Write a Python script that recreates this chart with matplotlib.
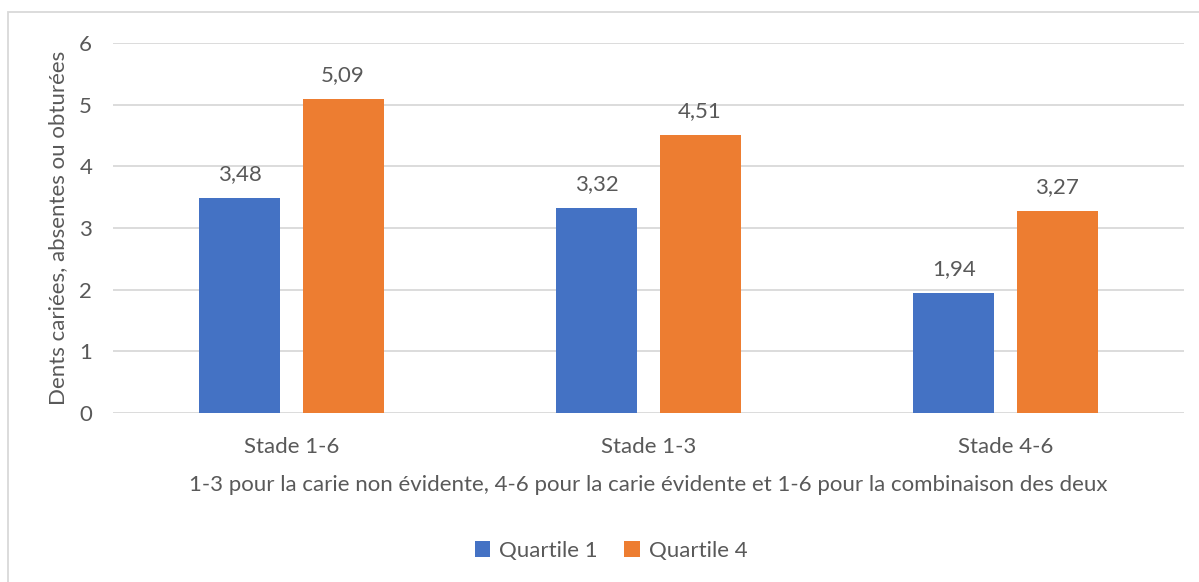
import matplotlib.pyplot as plt
from matplotlib.patches import Rectangle
import numpy as np

categories = ["Stade 1-6", "Stade 1-3", "Stade 4-6"]
quartile1 = [3.48, 3.32, 1.94]
quartile4 = [5.09, 4.51, 3.27]
series_names = ["Quartile 1", "Quartile 4"]

plt.rcParams['font.family'] = ['Lato', 'DejaVu Sans']
txt = "#595959"
grid = "#D9D9D9"
fs = 16

fig = plt.figure(figsize=(11.99, 5.82), dpi=100)
fig.patches.append(Rectangle((8 / 1199, -0.1), 1.2, 1.1 - 12 / 582, transform=fig.transFigure,
                             fill=False, edgecolor=grid, linewidth=1.3))
ax = fig.add_axes([113 / 1199, 1 - 413 / 582, 1071 / 1199, 370 / 582])

x = np.arange(len(categories))
w = 0.227
off = w / 2 + 0.031
b1 = ax.bar(x - off, quartile1, w, color="#4472C4", label=series_names[0])
b2 = ax.bar(x + off, quartile4, w, color="#ED7D31", label=series_names[1])

for bars, vals in ((b1, quartile1), (b2, quartile4)):
    for r, v in zip(bars, vals):
        ax.annotate(f"{v:.2f}".replace(".", ","), (r.get_x() + r.get_width() / 2, v),
                    xytext=(0, 10), textcoords="offset points", ha="center", va="bottom",
                    fontsize=fs, color=txt)

ax.set_xlim(-0.5, 2.5)
ax.set_ylim(0, 6)
ax.set_yticks(range(7))
ax.set_xticks(x)
ax.set_xticklabels(categories)
ax.yaxis.grid(True, color=grid, linewidth=1.3)
ax.set_axisbelow(True)
for s in ax.spines.values():
    s.set_visible(False)
ax.tick_params(length=0, labelsize=fs, colors=txt)
ax.tick_params(axis="y", pad=15)
ax.tick_params(axis="x", pad=17)
ax.set_ylabel("Dents cariées, absentes ou obturées", fontsize=fs, color=txt, labelpad=8)
ax.set_xlabel("1-3 pour la carie non évidente, 4-6 pour la carie évidente et 1-6 pour la combinaison des deux",
              fontsize=fs, color=txt, labelpad=13)

fig.legend(loc="center", bbox_to_anchor=(611 / 1199, 1 - 551 / 582), ncol=2, frameon=False,
           fontsize=fs, labelcolor=txt, handlelength=0.7, handleheight=0.7, columnspacing=1.2,
           handletextpad=0.4)

fig.savefig("out.png", dpi=100)
